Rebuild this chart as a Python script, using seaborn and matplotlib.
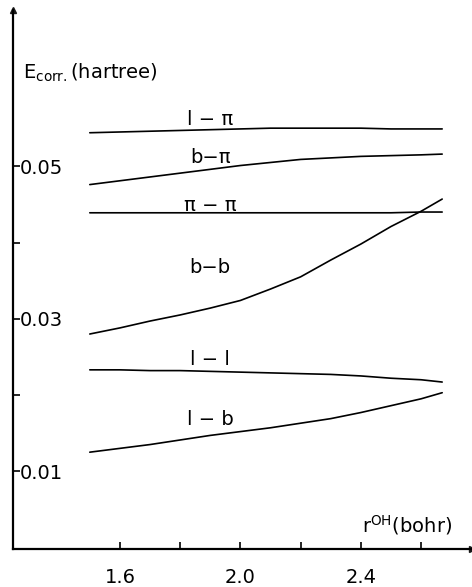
import numpy as np
import pandas as pd
import matplotlib
matplotlib.use("Agg")
import matplotlib.pyplot as plt
import seaborn as sns

# bond distance r_OH (bohr)
r_oh = [1.5, 1.6, 1.7, 1.8, 1.9, 2.0, 2.1, 2.2, 2.3, 2.4, 2.5, 2.6, 2.67]

# pair correlation energies (hartree)
e_l_pi = [0.0544, 0.0545, 0.0546, 0.0547, 0.0548, 0.0549, 0.0550,
          0.0550, 0.0550, 0.0550, 0.0549, 0.0549, 0.0549]
e_b_pi = [0.0476, 0.0481, 0.0486, 0.0491, 0.0496, 0.0501, 0.0505,
          0.0509, 0.0511, 0.0513, 0.0514, 0.0515, 0.0516]
e_pi_pi = [0.0439, 0.0439, 0.0439, 0.0439, 0.0439, 0.0439, 0.0439,
           0.0439, 0.0439, 0.0439, 0.0439, 0.0440, 0.0440]
e_b_b = [0.0280, 0.0288, 0.0297, 0.0305, 0.0314, 0.0324, 0.0339,
         0.0355, 0.0377, 0.0398, 0.0421, 0.0441, 0.0457]
e_l_l = [0.0233, 0.0233, 0.0232, 0.0232, 0.0231, 0.0230, 0.0229,
         0.0228, 0.0227, 0.0225, 0.0222, 0.0220, 0.0217]
e_l_b = [0.0125, 0.0130, 0.0135, 0.0141, 0.0147, 0.0152, 0.0157,
         0.0163, 0.0169, 0.0177, 0.0186, 0.0195, 0.0203]

pair_names = ["l − π", "b−π", "π − π", "b−b", "l − l", "l − b"]
# label baselines (hartree) next to each curve
label_y = [0.0554, 0.0504, 0.0442, 0.0360, 0.0239, 0.0160]

yticks = [0.01, 0.02, 0.03, 0.04, 0.05]
ytick_labels = ["0.01", "", "0.03", "", "0.05"]
xticks = [1.6, 1.8, 2.0, 2.2, 2.4, 2.6]
xtick_labels = ["1.6", "", "2.0", "", "2.4", ""]

series = [e_l_pi, e_b_pi, e_pi_pi, e_b_b, e_l_l, e_l_b]
df = pd.concat(
    [pd.DataFrame({"r": r_oh, "E": vals, "pair": name})
     for name, vals in zip(pair_names, series)],
    ignore_index=True,
)

sns.set_theme(style="ticks", rc={"text.color": "black",
                                 "axes.labelcolor": "black",
                                 "xtick.color": "black",
                                 "ytick.color": "black"})
plt.rcParams["font.family"] = ["DejaVu Sans"]
plt.rcParams["mathtext.fontset"] = "dejavusans"

fig = plt.figure(figsize=(4.72, 5.87), dpi=100)
ax = fig.add_axes([13 / 472, 38 / 587, 459 / 472, 539 / 587])

sns.lineplot(data=df, x="r", y="E", hue="pair", palette=["black"] * 6,
             legend=False, linewidth=1.2, ax=ax)

ax.set_xlim(1.245, 2.769)
ax.set_ylim(-0.0002, 0.0705)

sns.despine(ax=ax)
for side in ["left", "bottom"]:
    ax.spines[side].set_linewidth(1.6)
    ax.spines[side].set_color("black")

# arrow heads on the axes
ax.plot(1, 0, ">k", transform=ax.transAxes, clip_on=False, ms=5)
ax.plot(0, 1, "^k", transform=ax.transAxes, clip_on=False, ms=4)

ax.set_yticks(yticks)
ax.set_yticklabels(ytick_labels)
ax.set_xticks(xticks)
ax.set_xticklabels(xtick_labels)
ax.tick_params(axis="y", direction="in", length=5, width=1.2, pad=-5,
               labelsize=14, colors="black")
ax.tick_params(axis="x", direction="in", length=5, width=1.2, pad=14,
               labelsize=14, colors="black")
for lab in ax.get_yticklabels():
    lab.set_horizontalalignment("left")

ax.set_xlabel("")
ax.set_ylabel("")

# curve labels
for name, yl in zip(pair_names, label_y):
    ax.text(1.9, yl, name, ha="center", va="baseline", fontsize=14,
            color="black")

# axis titles inside the frame
ax.text(1.278, 0.0615, r"$\mathregular{E_{corr.}}$(hartree)",
        ha="left", va="baseline", fontsize=14, color="black")
ax.text(2.404, 0.0020, r"$\mathregular{r^{OH}}$(bohr)",
        ha="left", va="baseline", fontsize=14, color="black")

fig.savefig("out.png", dpi=100)
